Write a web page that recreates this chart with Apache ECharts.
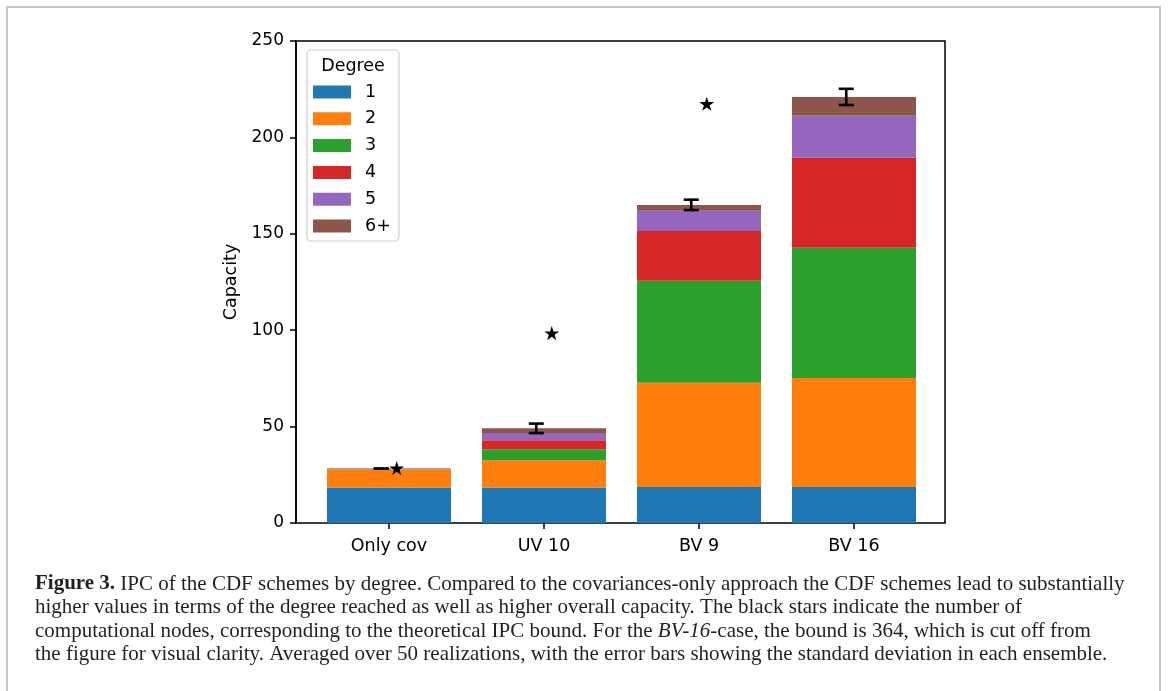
<!DOCTYPE html>
<html>
<head>
<meta charset="utf-8">
<script src="https://cdn.jsdelivr.net/npm/echarts@6/dist/echarts.min.js"></script>
<style>
html,body{margin:0;padding:0;background:#fff;}
#chart{width:1170px;height:691px;}
</style>
</head>
<body>
<div id="chart"></div>
<script>
const categories = ['Only cov', 'UV 10', 'BV 9', 'BV 16'];
const degreeNames = ['1', '2', '3', '4', '5', '6+'];
const deg1 = [18.4, 18.4, 18.7, 18.7];
const deg2 = [9.5, 14.1, 54.0, 56.5];
const deg3 = [0.1, 5.7, 52.9, 67.5];
const deg4 = [0.1, 4.7, 25.9, 46.7];
const deg5 = [0.3, 3.8, 10.4, 21.8];
const deg6 = [0.0, 2.4, 3.1, 9.8];
const totalMean = [28.2, 49.1, 165.0, 221.0];
const totalStd = [0.0, 2.45, 2.7, 4.2];
const nodeBound = [28, 98, 217];   // BV 16 bound (364) is off the chart
const yTicks = [0, 50, 100, 150, 200, 250];

const colors = ['#1f77b4', '#ff7f0e', '#2ca02c', '#d62728', '#9467bd', '#8c564b'];
const degreeData = [deg1, deg2, deg3, deg4, deg5, deg6];
const FONT = 'DejaVu Sans';

const chart = echarts.init(document.getElementById('chart'), null, {renderer: 'canvas'});

const barSeries = degreeData.map((arr, i) => ({
  name: degreeNames[i],
  type: 'bar',
  stack: 'deg',
  xAxisIndex: 1, yAxisIndex: 1,
  barWidth: 124,
  itemStyle: {color: colors[i]},
  emphasis: {disabled: true},
  data: arr
}));

const errSeries = {
  type: 'custom',
  xAxisIndex: 1, yAxisIndex: 1,
  z: 5,
  data: totalMean.map((m, i) => [i, m, totalStd[i]]),
  renderItem: function (params, api) {
    const i = api.value(0), m = api.value(1), s = api.value(2);
    const band = api.size([1, 0])[0];
    const dx = -0.05 * band;
    const top = api.coord([i, m + s]);
    const bot = api.coord([i, m - s]);
    const x = top[0] + dx;
    const cap = 7.5;
    const st = {stroke: '#000', lineWidth: 2.6};
    return {
      type: 'group',
      children: [
        {type: 'line', shape: {x1: x, y1: top[1], x2: x, y2: bot[1]}, style: st},
        {type: 'line', shape: {x1: x - cap, y1: top[1], x2: x + cap, y2: top[1]}, style: st},
        {type: 'line', shape: {x1: x - cap, y1: bot[1], x2: x + cap, y2: bot[1]}, style: st}
      ]
    };
  }
};

const starSeries = {
  type: 'custom',
  xAxisIndex: 1, yAxisIndex: 1,
  z: 6,
  data: nodeBound.map((v, i) => [i, v]),
  renderItem: function (params, api) {
    const p = api.coord([api.value(0), api.value(1)]);
    const band = api.size([1, 0])[0];
    const x = p[0] + 0.05 * band;
    const r = 7.6;
    return {
      type: 'path',
      shape: {pathData: 'M50,0 L61.2,34.5 L97.6,34.5 L68.2,55.9 L79.4,90.5 L50,69.1 L20.6,90.5 L31.8,55.9 L2.4,34.5 L38.8,34.5 Z',
              x: x - r, y: p[1] - r * 1.05, width: 2 * r, height: 2 * r * 0.93},
      style: {fill: '#000'}
    };
  }
};

const CAPFONT = 'Liberation Serif';
const CAPSIZE = 21;
const capLines = [
  '{b|Figure 3.} IPC of the CDF schemes by degree. Compared to the covariances-only approach the CDF schemes lead to substantially',
  'higher values in terms of the degree reached as well as higher overall capacity. The black stars indicate the number of',
  'computational nodes, corresponding to the theoretical IPC bound. For the {i|BV-16}-case, the bound is 364, which is cut off from',
  'the figure for visual clarity. Averaged over 50 realizations, with the error bars showing the standard deviation in each ensemble.'
];

const option = {
  animation: false,
  backgroundColor: '#fff',
  textStyle: {fontFamily: FONT},
  grid: [
    {left: 296, right: 225, top: 41, bottom: 168, show: true, borderColor: '#000', borderWidth: 1.5, backgroundColor: 'transparent'},
    {left: 311.5, right: 238.5, top: 41, bottom: 168}
  ],
  xAxis: [
    {gridIndex: 0, type: 'value', min: 0, max: 1, show: false},
    {gridIndex: 1, type: 'category', data: categories,
     axisLine: {show: false},
     axisTick: {show: true, alignWithLabel: true, length: 6, lineStyle: {color: '#000', width: 1.5}},
     axisLabel: {color: '#000', fontSize: 17.5, fontFamily: FONT, margin: 14}}
  ],
  yAxis: [
    {gridIndex: 0, type: 'value', min: 0, max: 250, interval: 50,
     name: 'Capacity', nameLocation: 'middle', nameGap: 53,
     nameTextStyle: {color: '#000', fontSize: 17.5, fontFamily: FONT},
     axisLine: {show: true, lineStyle: {color: '#000', width: 1.5}},
     axisTick: {show: true, length: 6, lineStyle: {color: '#000', width: 1.5}},
     axisLabel: {color: '#000', fontSize: 17, fontFamily: FONT, margin: 12,
                 formatter: v => yTicks.includes(v) ? String(v) : ''},
     splitLine: {show: false}},
    {gridIndex: 1, type: 'value', min: 0, max: 250, interval: 50, show: false, splitLine: {show: false}}
  ],
  legend: {
    orient: 'vertical',
    left: 313, top: 83,
    padding: 0,
    itemWidth: 38, itemHeight: 13, itemGap: 8.8,
    icon: 'rect',
    data: degreeNames,
    textStyle: {color: '#000', fontSize: 17.5, fontFamily: FONT, lineHeight: 13, padding: [0, 0, 0, 9]}
  },
  graphic: [
    {type: 'rect', shape: {x: 7, y: 7, width: 1153, height: 700}, style: {fill: 'none', stroke: '#c8c8c8', lineWidth: 2}, z: 0},
    {type: 'rect', shape: {x: 307, y: 50, width: 92, height: 191, r: 4}, style: {fill: 'rgba(255,255,255,0.8)', stroke: '#d0d0d0', lineWidth: 1.2}, z: 3},
    {type: 'text', x: 353, y: 66, style: {text: 'Degree', font: '17.5px "DejaVu Sans"', fill: '#000', textAlign: 'center', textVerticalAlign: 'middle'}, z: 4}
  ].concat(capLines.map((t, k) => ({
    type: 'text', x: 35, y: 584 + k * 23.5, z: 4,
    style: {
      text: t, fontFamily: CAPFONT, fontSize: CAPSIZE, fill: '#231f20', verticalAlign: 'middle', textVerticalAlign: 'middle',
      rich: {
        b: {fontFamily: CAPFONT, fontSize: CAPSIZE, fontWeight: 'bold', fill: '#231f20', color: '#231f20'},
        i: {fontFamily: CAPFONT, fontSize: CAPSIZE, fontStyle: 'italic', fill: '#231f20', color: '#231f20'}
      }
    }
  }))),
  series: barSeries.concat([errSeries, starSeries])
};
chart.setOption(option);
</script>
</body>
</html>
